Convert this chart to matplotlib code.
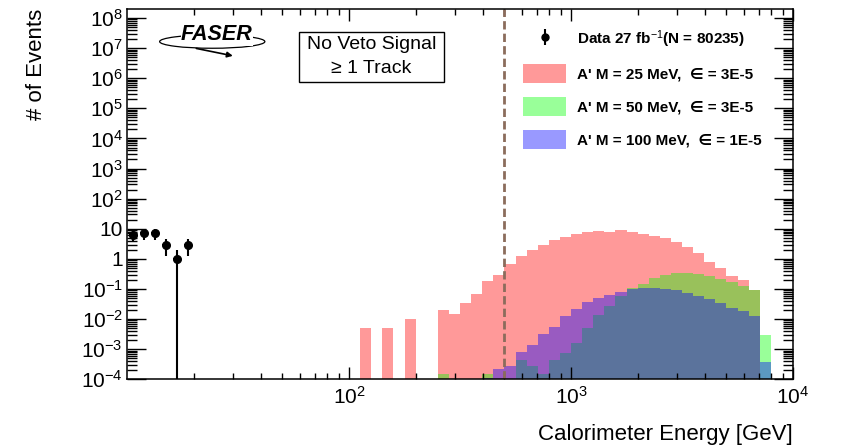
import numpy as np
import matplotlib
matplotlib.use('Agg')
import matplotlib.pyplot as plt
from matplotlib.ticker import LogLocator, FuncFormatter, NullFormatter, FixedLocator
from matplotlib.patches import Rectangle, Ellipse, Patch

plt.rcParams['font.family'] = ['Liberation Sans', 'DejaVu Sans']
plt.rcParams['mathtext.fontset'] = 'custom'
plt.rcParams['mathtext.rm'] = 'Liberation Sans'
plt.rcParams['mathtext.it'] = 'Liberation Sans:italic'
plt.rcParams['mathtext.bf'] = 'Liberation Sans:bold'

# log binning: 20 bins per decade from 10 GeV to 10 TeV
edges = np.logspace(1, 4, 61)

# data (first bins only)
data_counts = [6, 7, 7, 3, 1, 3]

# signal histograms, values starting at the given bin index
pink_start = 21
pink_vals = [5e-3, 0, 5e-3, 0, 0.01, 0, 0, 0.0194, 0.0147, 0.035, 0.068, 0.185,
             0.3, 0.7, 1.26, 1.9, 2.9, 4.2, 5.4, 6.5, 7.7, 8.6, 7.9, 9.0, 7.7,
             6.8, 5.7, 5.0, 3.7, 2.4, 1.6, 0.79, 0.51, 0.28, 0.2, 0.095]
green_start = 28
green_vals = [1.5e-4, 0, 0, 0, 1.5e-4, 0, 0, 4.4e-4, 2.8e-4, 1.5e-4, 4.4e-4,
              7.6e-4, 1.6e-3, 5.1e-3, 0.0142, 0.0277, 0.06, 0.105, 0.15, 0.23,
              0.29, 0.34, 0.33, 0.31, 0.26, 0.21, 0.166, 0.129, 0.093, 3e-3]
blue_start = 32
blue_vals = [1.1e-4, 2.2e-4, 2.8e-4, 7.8e-4, 1.4e-3, 3.2e-3, 5.5e-3, 0.0129,
             0.0215, 0.037, 0.05, 0.061, 0.081, 0.1, 0.108, 0.105, 0.1, 0.093,
             0.075, 0.06, 0.046, 0.033, 0.024, 0.018, 0.0123, 3.9e-4]

labels = ['Data 27 fb$^{-1}$(N = 80235)',
          "A' M = 25 MeV,  \u2208 = 3E-5",
          "A' M = 50 MeV,  \u2208 = 3E-5",
          "A' M = 100 MeV,  \u2208 = 1E-5"]
cut_value = 500


def full_hist(start, vals):
    h = np.zeros(len(edges) - 1)
    h[start:start + len(vals)] = vals
    return np.where(h > 0, h, 1e-9)


fig = plt.figure(figsize=(8.41, 4.48), dpi=100)
ax = fig.add_axes([127 / 841, 1 - 379.3 / 448, 666 / 841, 370.3 / 448])

for start, vals, col in [(pink_start, pink_vals, (1, 0, 0)),
                         (green_start, green_vals, (0, 1, 0)),
                         (blue_start, blue_vals, (0, 0, 1))]:
    ax.stairs(full_hist(start, vals), edges, fill=True, baseline=1e-9,
              color=col, alpha=0.4, linewidth=0)

# data points
centers = np.sqrt(edges[:-1] * edges[1:])[:len(data_counts)]
counts = np.array(data_counts, dtype=float)
err = np.sqrt(counts)
lo = np.minimum(err, counts - 1e-7)
xl = (centers - edges[:len(counts)]) * 0.7
xh = (edges[1:len(counts) + 1] - centers) * 0.7
ax.errorbar(centers, counts, yerr=[lo, err], xerr=[xl, xh], fmt='o',
            color='black', ms=5.5, elinewidth=1.5, capsize=0, zorder=5)

ax.axvline(cut_value, color='#8b6c5c', linestyle=(0, (3, 1.5)), linewidth=2.0)

ax.set_xscale('log')
ax.set_yscale('log')
ax.set_xlim(10, 1e4)
ax.set_ylim(1e-4, 10 ** 8.3)

ax.xaxis.set_major_locator(FixedLocator([1e2, 1e3, 1e4]))
ax.xaxis.set_minor_locator(LogLocator(base=10, subs=np.arange(2, 10), numticks=100))
ax.xaxis.set_minor_formatter(NullFormatter())
ax.xaxis.set_major_formatter(FuncFormatter(lambda v, p: f'$10^{{{int(round(np.log10(v)))}}}$'))

ax.yaxis.set_major_locator(LogLocator(base=10, numticks=30))
ax.yaxis.set_minor_locator(LogLocator(base=10, subs=np.arange(2, 10), numticks=200))
ax.yaxis.set_minor_formatter(NullFormatter())


def yfmt(v, p):
    n = int(round(np.log10(v)))
    if n == 0:
        return '1'
    if n == 1:
        return '10'
    return f'$10^{{{n}}}$'


ax.yaxis.set_major_formatter(FuncFormatter(yfmt))

ax.tick_params(axis='both', which='both', direction='in', top=True, right=True,
               width=1.0, labelsize=15, color='black')
ax.tick_params(axis='x', which='major', length=8.5, pad=5)
ax.tick_params(axis='x', which='minor', length=4.3)
ax.tick_params(axis='y', which='major', length=13.5, pad=3)
ax.tick_params(axis='y', which='minor', length=7)
for s in ax.spines.values():
    s.set_linewidth(1.1)

ax.set_xlabel('Calorimeter Energy [GeV]', fontsize=16, loc='right')
ax.xaxis.set_label_coords(1.0, -0.122)
ax.set_ylabel('# of Events', fontsize=16, loc='top')
ax.yaxis.set_label_coords(-0.12, 1.0)

# legend
hdata = ax.errorbar([np.nan], [np.nan], yerr=[1], fmt='o', color='black', ms=5,
                    elinewidth=1.5, capsize=0)
handles = [hdata,
           Patch(facecolor=(1, 0.6, 0.6), edgecolor='none'),
           Patch(facecolor=(0.6, 1, 0.6), edgecolor='none'),
           Patch(facecolor=(0.6, 0.6, 1), edgecolor='none')]
leg = ax.legend(handles, labels, loc='upper left', bbox_to_anchor=(0.595, 0.947),
                frameon=False, borderaxespad=0, borderpad=0,
                handlelength=2.8, handleheight=1.5, labelspacing=0.93,
                handletextpad=0.7, prop={'weight': 'bold', 'size': 11})

# selection box
ax.add_patch(Rectangle((0.258, 0.803), 0.218, 0.135, transform=ax.transAxes,
                       facecolor='white', edgecolor='black', linewidth=1.0))
ax.text(0.367, 0.903, 'No Veto Signal', transform=ax.transAxes, ha='center',
        va='center', fontsize=14)
ax.text(0.367, 0.838, '\u2265 1 Track', transform=ax.transAxes, ha='center',
        va='center', fontsize=14)

# FASER logo
ax.add_patch(Ellipse((0.128, 0.912), 0.158, 0.036, transform=ax.transAxes,
                     facecolor='none', edgecolor='black', linewidth=0.9))
ax.text(0.135, 0.93, 'FASER', transform=ax.transAxes, ha='center', va='center',
        fontsize=15.5, fontweight='bold', fontstyle='italic',
        bbox=dict(facecolor='white', edgecolor='none', pad=0.2))
ax.annotate('', xy=(0.163, 0.872), xytext=(0.1, 0.895), xycoords='axes fraction',
            arrowprops=dict(arrowstyle='-|>', color='black', lw=1.2,
                            mutation_scale=8))

fig.savefig('out.png', dpi=100)
